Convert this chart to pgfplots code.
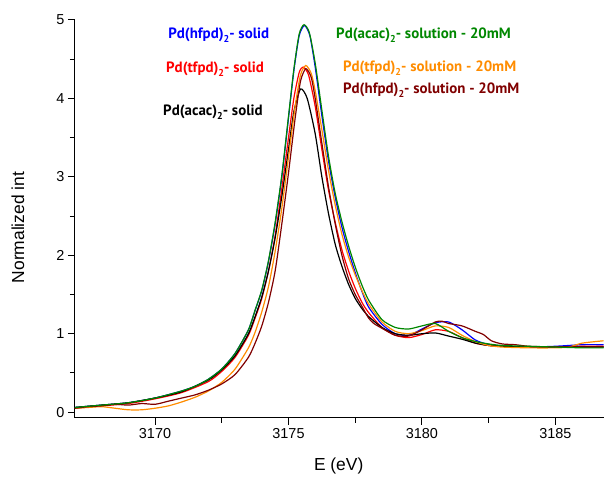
\documentclass[border=0pt]{standalone}
\usepackage{fontspec}
\setmainfont{Liberation Sans}
\newfontfamily\annfont{PT Sans}
\usepackage{pgfplots}
\pgfplotsset{compat=1.18}
\definecolor{cgreen}{RGB}{0,135,0}
\definecolor{corange}{RGB}{255,140,0}
\definecolor{cdred}{RGB}{128,0,0}
\newcommand{\sub}[1]{\raisebox{-4bp}{\fontsize{10}{10}\selectfont #1}}
\begin{document}
\begin{tikzpicture}
\begin{axis}[
  scale only axis, width=529bp, height=398bp,
  xmin=3167, xmax=3186.8, ymin=-0.07, ymax=5,
  axis lines=left, axis line style={-, line width=1bp},
  tick align=outside, tick style={line width=1bp, black},
  major tick length=7bp, minor tick length=5bp,
  xtick={3170,3175,3180,3185}, minor x tick num=1,
  ytick={0,1,2,3,4,5}, minor y tick num=1,
  /pgf/number format/assume math mode=true,
  xticklabel style={/pgf/number format/1000 sep={}, font=\fontsize{14.5}{16}\selectfont},
  yticklabel style={font=\fontsize{14.5}{16}\selectfont},
  xlabel={E (eV)}, ylabel={Normalized int},
  xlabel style={at={(axis description cs:0.499,-0.1206)}, anchor=center, font=\fontsize{17.5}{19}\selectfont},
  ylabel style={at={(axis description cs:-0.1078,0.478)}, anchor=center, rotate=0, font=\fontsize{17.5}{19}\selectfont},
  clip=true,
  every axis plot/.append style={line width=1.2bp, smooth, tension=0.4, no marks},
]
% Pd(hfpd)2 solid - blue
\addplot[blue] coordinates {
(3167,0.06)(3168,0.09)(3169,0.12)(3170,0.18)(3171,0.27)(3171.5,0.33)(3172,0.42)(3172.5,0.55)(3173,0.75)(3173.5,1.05)(3173.75,1.3)(3174,1.55)(3174.25,1.92)(3174.5,2.4)(3174.75,3.0)(3175,3.75)(3175.2,4.35)(3175.4,4.8)(3175.6,4.93)(3175.8,4.8)(3176,4.4)(3176.25,3.78)(3176.5,3.2)(3176.75,2.74)(3177,2.36)(3177.25,2.05)(3177.5,1.78)(3177.75,1.54)(3178,1.34)(3178.5,1.12)(3179,1.0)(3179.5,0.98)(3180,1.06)(3180.5,1.14)(3181,1.15)(3181.5,1.05)(3182,0.92)(3182.5,0.86)(3183,0.84)(3184,0.83)(3185,0.84)(3186,0.86)(3186.8,0.86)};
% Pd(tfpd)2 solid - red
\addplot[red] coordinates {
(3167,0.05)(3168,0.08)(3169,0.11)(3170,0.17)(3171,0.25)(3172,0.39)(3172.5,0.52)(3173,0.7)(3173.5,0.98)(3173.75,1.2)(3174,1.45)(3174.25,1.8)(3174.5,2.25)(3174.75,2.85)(3175,3.5)(3175.2,4.0)(3175.4,4.33)(3175.55,4.4)(3175.75,4.3)(3176,3.9)(3176.25,3.35)(3176.5,2.83)(3176.75,2.42)(3177,2.07)(3177.25,1.8)(3177.5,1.58)(3177.75,1.4)(3178,1.27)(3178.5,1.08)(3179,0.98)(3179.5,0.95)(3180,0.99)(3180.5,1.05)(3181,1.03)(3181.5,0.95)(3182,0.88)(3182.5,0.85)(3183,0.84)(3184,0.83)(3185,0.83)(3186,0.84)(3186.8,0.84)};
% Pd(acac)2 solid - black
\addplot[black] coordinates {
(3167,0.06)(3168,0.09)(3169,0.12)(3170,0.18)(3171,0.26)(3172,0.41)(3172.5,0.54)(3173,0.72)(3173.5,1.0)(3173.75,1.22)(3174,1.47)(3174.25,1.8)(3174.5,2.22)(3174.75,2.75)(3175,3.35)(3175.2,3.83)(3175.45,4.12)(3175.7,4.0)(3176,3.55)(3176.25,3.0)(3176.5,2.53)(3176.75,2.14)(3177,1.86)(3177.25,1.63)(3177.5,1.45)(3177.75,1.32)(3178,1.22)(3178.5,1.08)(3179,1.0)(3179.5,0.98)(3180,1.0)(3180.5,1.01)(3181,0.97)(3181.5,0.93)(3182,0.88)(3182.5,0.85)(3183,0.84)(3184,0.83)(3185,0.83)(3186,0.83)(3186.8,0.83)};
% Pd(tfpd)2 solution - orange
\addplot[corange] coordinates {
(3167,0.05)(3167.5,0.06)(3168,0.07)(3168.5,0.05)(3169,0.03)(3169.5,0.03)(3170,0.05)(3170.5,0.08)(3171,0.13)(3171.5,0.19)(3172,0.27)(3172.5,0.38)(3173,0.55)(3173.5,0.82)(3173.75,1.02)(3174,1.28)(3174.25,1.6)(3174.5,2.05)(3174.75,2.6)(3175,3.25)(3175.25,3.9)(3175.45,4.3)(3175.65,4.42)(3175.85,4.32)(3176,4.1)(3176.25,3.6)(3176.5,3.08)(3176.75,2.64)(3177,2.27)(3177.25,1.98)(3177.5,1.75)(3177.75,1.55)(3178,1.38)(3178.5,1.15)(3179,1.03)(3179.5,1.0)(3180,1.04)(3180.5,1.1)(3181,1.08)(3181.5,0.98)(3182,0.9)(3182.5,0.85)(3183,0.83)(3184,0.82)(3185,0.82)(3185.5,0.83)(3186,0.88)(3186.8,0.91)};
% Pd(hfpd)2 solution - dark red
\addplot[cdred] coordinates {
(3167,0.05)(3167.5,0.07)(3168,0.08)(3168.5,0.1)(3169,0.09)(3169.5,0.11)(3170,0.1)(3170.5,0.14)(3171,0.18)(3171.5,0.22)(3172,0.28)(3172.5,0.36)(3173,0.48)(3173.5,0.7)(3173.75,0.88)(3174,1.1)(3174.25,1.4)(3174.5,1.8)(3174.75,2.4)(3175,3.05)(3175.25,3.75)(3175.45,4.22)(3175.65,4.38)(3175.85,4.27)(3176,4.0)(3176.25,3.43)(3176.5,2.87)(3176.75,2.4)(3177,2.0)(3177.25,1.7)(3177.5,1.5)(3177.75,1.35)(3178,1.2)(3178.2,1.13)(3178.5,1.07)(3179,0.98)(3179.5,0.97)(3180,1.05)(3180.5,1.15)(3180.75,1.16)(3181,1.13)(3181.5,1.1)(3182,1.03)(3182.3,0.99)(3182.6,0.91)(3183,0.87)(3183.5,0.86)(3184,0.84)(3185,0.83)(3186,0.83)(3186.8,0.83)};
% Pd(acac)2 solution - green
\addplot[cgreen] coordinates {
(3167,0.06)(3168,0.09)(3169,0.12)(3170,0.18)(3171,0.27)(3171.5,0.33)(3172,0.42)(3172.5,0.55)(3173,0.75)(3173.5,1.05)(3173.75,1.3)(3174,1.56)(3174.25,1.93)(3174.5,2.42)(3174.75,3.02)(3175,3.77)(3175.2,4.37)(3175.4,4.82)(3175.58,4.94)(3175.78,4.84)(3176,4.45)(3176.25,3.85)(3176.5,3.26)(3176.75,2.79)(3177,2.43)(3177.25,2.12)(3177.5,1.85)(3177.75,1.62)(3178,1.43)(3178.5,1.18)(3179,1.08)(3179.5,1.06)(3180,1.1)(3180.5,1.13)(3181,1.03)(3181.5,0.95)(3182,0.9)(3182.5,0.87)(3183,0.85)(3184,0.84)(3185,0.83)(3186,0.82)(3186.8,0.82)};
\begin{scope}[every node/.style={anchor=west, inner sep=0pt, font=\annfont\bfseries\fontsize{15}{16}\selectfont}]
\node[text=blue] at (axis cs:3170.49,4.81) {Pd(hfpd)\sub{2}- solid};
\node[text=red] at (axis cs:3170.41,4.37) {Pd(tfpd)\sub{2}- solid};
\node[text=black] at (axis cs:3170.30,3.82) {Pd(acac)\sub{2}- solid};
\node[text=cgreen] at (axis cs:3176.78,4.81) {Pd(acac)\sub{2}- solution - 20mM};
\node[text=corange] at (axis cs:3177.04,4.39) {Pd(tfpd)\sub{2}- solution - 20mM};
\node[text=cdred] at (axis cs:3177.04,4.11) {Pd(hfpd)\sub{2}- solution - 20mM};
\end{scope}
\end{axis}
\path (current axis.south west) ++(-75bp,-57bp) coordinate (bbA);
\path (current axis.north east) ++(0bp,20bp) coordinate (bbB);
\path (bbA) rectangle (bbB);
\end{tikzpicture}
\end{document}
